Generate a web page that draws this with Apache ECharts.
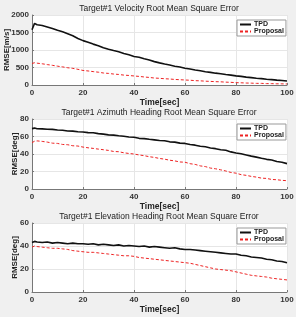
<!DOCTYPE html>
<html>
<head>
<meta charset="utf-8">
<script src="https://cdn.jsdelivr.net/npm/echarts@6/dist/echarts.min.js"></script>
<style>
  html, body { margin: 0; padding: 0; background: #f0f0f0; }
  #main { width: 296px; height: 317px; }
</style>
</head>
<body>
<div id="main"></div>
<script>
// time samples [sec]
const timeSec = [0, 1, 2, 4, 6, 8, 10, 12, 14, 16, 18, 20, 22, 24, 26, 28, 30, 32, 34, 36, 38, 40,
  42, 44, 46, 48, 50, 52, 54, 56, 58, 60, 62, 64, 66, 68, 70, 72, 74, 76, 78, 80,
  82, 84, 86, 88, 90, 92, 94, 96, 98, 100];

// velocity RMSE [m/s]
const velTPD = [1580, 1760, 1720, 1702, 1660, 1615, 1562, 1522, 1465, 1405, 1328, 1268, 1222, 1168, 1124, 1066, 1022, 983, 948, 898, 862, 815,
  792, 748, 712, 668, 632, 598, 572, 538, 512, 480, 457, 428, 406, 378, 361, 338, 322, 298, 281, 260,
  246, 226, 211, 194, 181, 164, 153, 139, 129, 115];
const velProp = [615, 636, 624, 606, 583, 562, 538, 517, 493, 476, 448, 416, 401, 383, 366, 343, 331, 313, 301, 283, 272, 258,
  246, 229, 216, 199, 191, 179, 171, 159, 151, 143, 136, 124, 119, 109, 103, 95, 91, 82, 76, 67,
  63, 56, 53, 47, 46, 40, 39, 34, 33, 29];

// azimuth heading RMSE [deg]
const aziTPD = [69, 69.6, 68.8, 68.7, 68.3, 68.1, 67.4, 67.1, 66.3, 66.1, 65.4, 65.1, 64.4, 64.2, 63.3, 62.7, 61.9, 61.6, 60.8, 60.2, 59.4, 59.1,
  57.9, 57.6, 56.8, 56.1, 55.4, 55.1, 53.9, 53.6, 52.4, 52.1, 50.9, 50.1, 48.9, 48.2, 46.9, 46.1, 44.9, 44.2, 42.4, 41.1,
  40.2, 38.9, 37.6, 36.4, 35.1, 33.9, 33.1, 31.4, 30.6, 29];
const aziProp = [53, 54.6, 55, 54.4, 53.6, 52.4, 52.1, 50.9, 50.6, 49.4, 49.1, 47.9, 47.1, 46.4, 45.6, 44.9, 44.1, 42.9, 42.6, 41.4, 40.6, 40,
  38.9, 38.1, 36.9, 36.1, 34.9, 34.1, 32.9, 32.1, 30.9, 30.6, 28.9, 28.1, 26.4, 25.6, 23.9, 23.1, 21.9, 20.6, 18.9, 18.1,
  16.4, 15.6, 14.4, 13.6, 12.4, 12.1, 10.9, 10.6, 9.9, 9.5];

// elevation heading RMSE [deg]
const eleTPD = [43, 44, 43.5, 43, 43.5, 42.5, 43, 42.5, 42, 42.5, 42, 42, 41.5, 42, 41, 41.5, 41, 40.5, 41, 40, 40.5, 40,
  39.5, 40, 39, 39.5, 39, 38.5, 38, 38.5, 37.5, 37, 37, 36.5, 36, 35.5, 35, 34.5, 34, 33.5, 33, 33,
  32, 31.5, 30.5, 30, 29.5, 28.5, 28, 27, 26.5, 25.5];
const eleProp = [39, 40, 39.5, 39, 38.5, 38, 38, 37.5, 37, 36, 35.5, 35, 34.5, 34.5, 34, 33.5, 33, 32.5, 32, 31.5, 31.5, 31,
  30, 29.5, 29, 28.5, 28, 27.5, 27, 26.5, 26, 25.5, 25, 24, 23, 22, 21, 20, 19.5, 19, 18.5, 17.5,
  16.5, 15.5, 14.5, 14, 13.5, 13, 12, 11.5, 11, 10.5];

const titles = [
  'Target#1 Velocity Root Mean Square Error',
  'Target#1 Azimuth Heading Root Mean Square Error',
  'Target#1 Elevation Heading Root Mean Square Error'
];
const yNames = ['RMSE[m/s]', 'RMSE[deg]', 'RMSE[deg]'];
const yMax = [2000, 80, 60];
const yStep = [500, 20, 20];
const tpdData = [velTPD, aziTPD, eleTPD];
const propData = [velProp, aziProp, eleProp];

const gridTops = [15, 119, 223];
const gridH = [70, 70, 69];
const legendTops = [20, 124, 228];
const FONT = 'Liberation Sans';

const pair = (arr) => arr.map((v, i) => [timeSec[i], v]);

const chart = echarts.init(document.getElementById('main'));

const option = {
  backgroundColor: '#f0f0f0',
  animation: false,
  title: titles.map((t, i) => ({
    text: t,
    left: 159,
    textAlign: 'center',
    top: gridTops[i] - 11,
    padding: 0,
    textStyle: { fontFamily: FONT, fontSize: 8.5, fontWeight: 'normal', color: '#222' }
  })),
  legend: [0, 1, 2].map(i => ({
    data: ['TPD', 'Proposal'],
    orient: 'vertical',
    left: 237,
    top: legendTops[i],
    padding: [1, 2, 1, 2],
    itemGap: 0,
    itemWidth: 11,
    itemHeight: 7,
    backgroundColor: '#fff',
    borderColor: '#999',
    borderWidth: 1,
    selectedMode: false,
    itemStyle: { opacity: 0 },
    textStyle: { fontFamily: FONT, fontSize: 7, fontWeight: 'bold', color: '#222', padding: [0, 0, 0, -2] }
  })),
  grid: [0, 1, 2].map(i => ({
    left: 32, right: 9, top: gridTops[i], height: gridH[i],
    containLabel: false, outerBoundsMode: 'none',
    show: true, backgroundColor: '#fff', borderWidth: 0
  })),
  xAxis: [0, 1, 2].map(i => ({
    type: 'value',
    gridIndex: i,
    min: 0, max: 100, interval: 20,
    name: 'Time[sec]',
    nameLocation: 'middle',
    nameGap: 13,
    nameMoveOverlap: false,
    nameTextStyle: { fontFamily: FONT, fontSize: 8.5, fontWeight: 'bold', color: '#222' },
    axisLine: { onZero: false, lineStyle: { color: '#777', width: 1 } },
    axisTick: { inside: true, length: 2, lineStyle: { color: '#777' } },
    axisLabel: { fontFamily: FONT, fontSize: 8, fontWeight: 'bold', color: '#333', margin: 4, formatter: v => String(v) },
    splitLine: { show: true, lineStyle: { color: '#e6e6e6', width: 1 } }
  })),
  yAxis: [0, 1, 2].map(i => ({
    type: 'value',
    gridIndex: i,
    min: 0, max: yMax[i], interval: yStep[i],
    name: yNames[i],
    nameLocation: 'middle',
    nameGap: i === 0 ? 21 : 13,
    nameMoveOverlap: false,
    nameTextStyle: { fontFamily: FONT, fontSize: 8, fontWeight: 'bold', color: '#222' },
    axisLine: { show: true, lineStyle: { color: '#777', width: 1 } },
    axisTick: { show: true, inside: true, length: 2, lineStyle: { color: '#777' } },
    axisLabel: { fontFamily: FONT, fontSize: 8, fontWeight: 'bold', color: '#333', margin: 3, formatter: v => String(v) },
    splitLine: { show: true, lineStyle: { color: '#e6e6e6', width: 1 } }
  })),
  series: []
};

for (let i = 0; i < 3; i++) {
  option.series.push({
    name: 'TPD', type: 'line', xAxisIndex: i, yAxisIndex: i,
    data: pair(tpdData[i]), symbol: 'none', z: 3,
    lineStyle: { color: '#111', width: 1.6 },
    itemStyle: { color: '#111' }
  });
  option.series.push({
    name: 'Proposal', type: 'line', xAxisIndex: i, yAxisIndex: i,
    data: pair(propData[i]), symbol: 'none', z: 2,
    lineStyle: { color: '#ee2222', width: 1, type: [3, 2] },
    itemStyle: { color: '#ee2222' }
  });
}

chart.setOption(option);
</script>
</body>
</html>
